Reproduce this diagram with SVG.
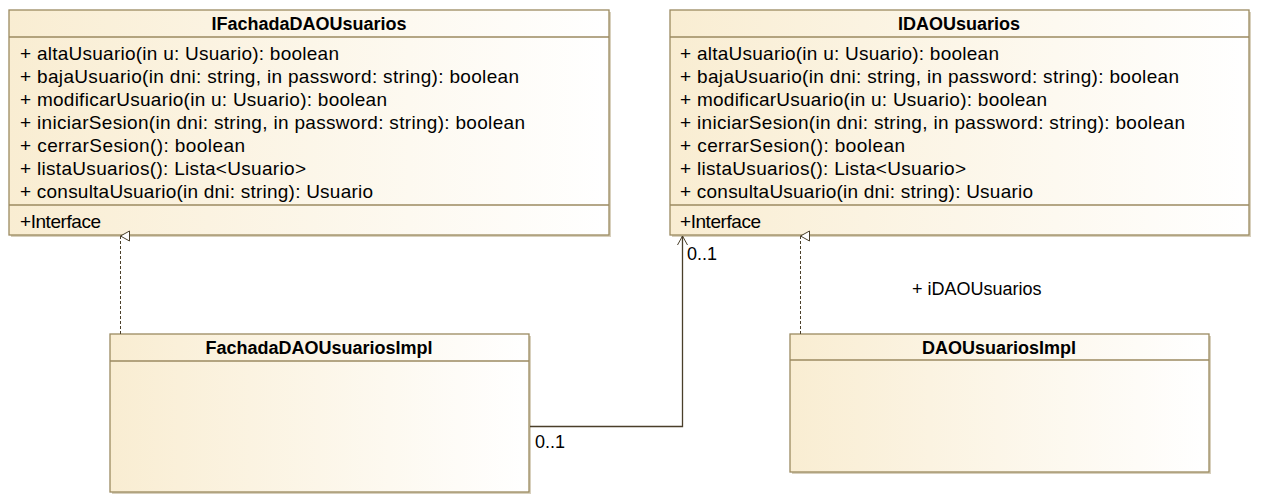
<svg xmlns="http://www.w3.org/2000/svg" width="1261" height="504" viewBox="0 0 1261 504">
<defs>
<linearGradient id="g" x1="0" y1="0" x2="1" y2="0">
<stop offset="0" stop-color="#f9edd2"/>
<stop offset="1" stop-color="#ffffff"/>
</linearGradient>
<marker id="tri" markerWidth="12" markerHeight="12" refX="6" refY="1" orient="auto-start-reverse" markerUnits="userSpaceOnUse" viewBox="0 0 12 12">
<path d="M1,10 L6,1 L11,10 Z" fill="#fff" stroke="#4a3f2a" stroke-width="1"/>
</marker>
<marker id="open" markerWidth="12" markerHeight="12" refX="6" refY="1" markerUnits="userSpaceOnUse" viewBox="0 0 12 12">
<path d="M1,10 L6,1 L11,10" fill="none" stroke="#4a3f2a" stroke-width="1"/>
</marker>
</defs>
<style>
.box{fill:url(#g);stroke:#9b8a60;stroke-width:1.3}
.shadow{fill:#d8d0bd}
.sep{stroke:#9b8a60;stroke-width:1.3}
.t{font-family:"Liberation Sans",Arial,sans-serif;font-size:19px;fill:#000}
.title{font-family:"Liberation Sans",Arial,sans-serif;font-size:18px;font-weight:bold;fill:#000;text-anchor:middle}
.lbl{font-family:"Liberation Sans",Arial,sans-serif;font-size:18px;fill:#000}
.dash{stroke:#4a3f2a;stroke-width:1;stroke-dasharray:3,2;fill:none}
.solid{stroke:#4a3f2a;stroke-width:1.3;fill:none}
</style>
<g id="IFachadaDAOUsuarios">
<rect class="shadow" x="11" y="12" width="600" height="225"/>
<rect class="box" x="9" y="10" width="600" height="225"/>
<line class="sep" x1="9" y1="37" x2="609" y2="37"/>
<line class="sep" x1="9" y1="205" x2="609" y2="205"/>
<text class="title" x="309" y="30">IFachadaDAOUsuarios</text>
<text class="t" x="20" y="60" textLength="319">+ altaUsuario(in u: Usuario): boolean</text>
<text class="t" x="20" y="83" textLength="499">+ bajaUsuario(in dni: string, in password: string): boolean</text>
<text class="t" x="20" y="106" textLength="367">+ modificarUsuario(in u: Usuario): boolean</text>
<text class="t" x="20" y="129" textLength="505">+ iniciarSesion(in dni: string, in password: string): boolean</text>
<text class="t" x="20" y="152" textLength="225">+ cerrarSesion(): boolean</text>
<text class="t" x="20" y="175" textLength="286">+ listaUsuarios(): Lista&lt;Usuario&gt;</text>
<text class="t" x="20" y="198" textLength="353">+ consultaUsuario(in dni: string): Usuario</text>
<text class="t" x="20" y="228" textLength="81">+Interface</text>
</g>
<g id="IDAOUsuarios">
<rect class="shadow" x="672" y="12" width="579" height="225"/>
<rect class="box" x="670" y="10" width="579" height="225"/>
<line class="sep" x1="670" y1="37" x2="1249" y2="37"/>
<line class="sep" x1="670" y1="205" x2="1249" y2="205"/>
<text class="title" x="959" y="30">IDAOUsuarios</text>
<text class="t" x="680" y="60" textLength="319">+ altaUsuario(in u: Usuario): boolean</text>
<text class="t" x="680" y="83" textLength="499">+ bajaUsuario(in dni: string, in password: string): boolean</text>
<text class="t" x="680" y="106" textLength="367">+ modificarUsuario(in u: Usuario): boolean</text>
<text class="t" x="680" y="129" textLength="505">+ iniciarSesion(in dni: string, in password: string): boolean</text>
<text class="t" x="680" y="152" textLength="225">+ cerrarSesion(): boolean</text>
<text class="t" x="680" y="175" textLength="286">+ listaUsuarios(): Lista&lt;Usuario&gt;</text>
<text class="t" x="680" y="198" textLength="353">+ consultaUsuario(in dni: string): Usuario</text>
<text class="t" x="680" y="228" textLength="81">+Interface</text>
</g>
<g id="FachadaDAOUsuariosImpl">
<rect class="shadow" x="112" y="336" width="419" height="158"/>
<rect class="box" x="110" y="334" width="419" height="158"/>
<line class="sep" x1="110" y1="361" x2="529" y2="361"/>
<text class="title" x="319" y="354">FachadaDAOUsuariosImpl</text>
</g>
<g id="DAOUsuariosImpl">
<rect class="shadow" x="792" y="336" width="419" height="138"/>
<rect class="box" x="790" y="334" width="419" height="138"/>
<line class="sep" x1="790" y1="360" x2="1209" y2="360"/>
<text class="title" x="999" y="354">DAOUsuariosImpl</text>
</g>
<g id="connectors">
<line class="dash" x1="120.5" y1="334" x2="120.5" y2="236" marker-end="url(#tri)"/>
<line class="dash" x1="800.5" y1="334" x2="800.5" y2="236" marker-end="url(#tri)"/>
<polyline class="solid" points="530,426.5 682.5,426.5 682.5,236" marker-end="url(#open)"/>
<text class="lbl" x="535" y="448">0..1</text>
<text class="lbl" x="687" y="260">0..1</text>
<text class="lbl" x="912" y="295">+ iDAOUsuarios</text>
</g>
</svg>
